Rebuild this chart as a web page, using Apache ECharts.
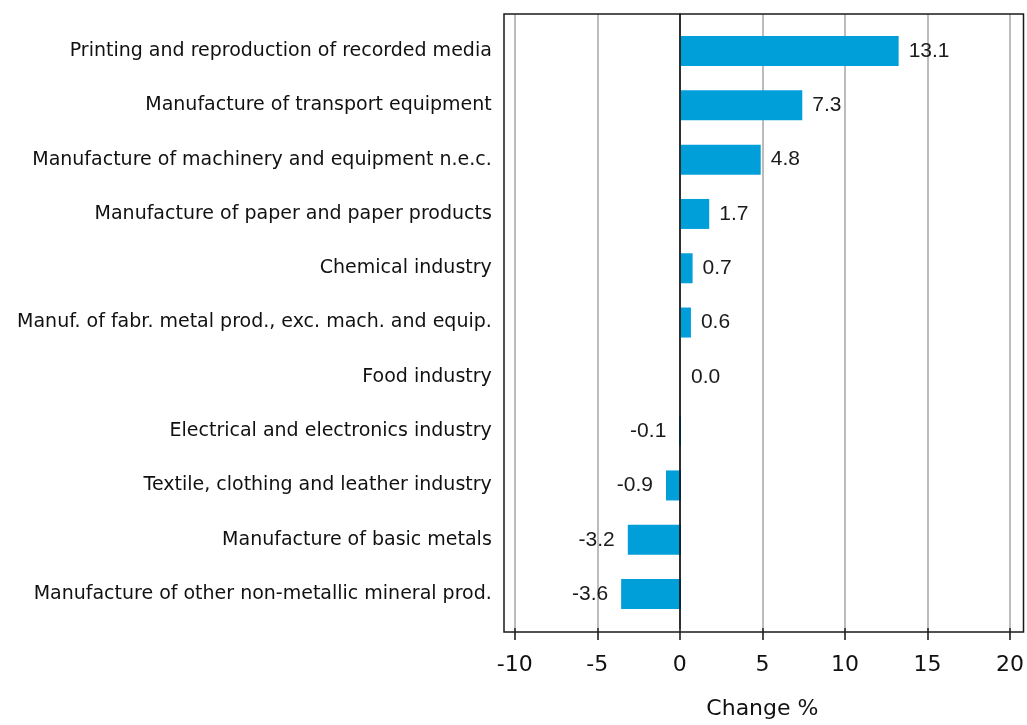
<!DOCTYPE html>
<html>
<head>
<meta charset="utf-8">
<script src="https://cdn.jsdelivr.net/npm/echarts@6/dist/echarts.min.js"></script>
<style>
html,body{margin:0;padding:0;background:#fff;}
#chart{width:1027px;height:725px;}
</style>
</head>
<body>
<div id="chart"></div>
<script>
var categories = [
  "Printing and reproduction of recorded media",
  "Manufacture of transport equipment",
  "Manufacture of machinery and equipment n.e.c.",
  "Manufacture of paper and paper products",
  "Chemical industry",
  "Manuf. of fabr. metal prod., exc. mach. and equip.",
  "Food industry",
  "Electrical and electronics industry",
  "Textile, clothing and leather industry",
  "Manufacture of basic metals",
  "Manufacture of other non-metallic mineral prod."
];
var values = [13.1, 7.3, 4.8, 1.7, 0.7, 0.6, 0.0, -0.1, -0.9, -3.2, -3.6];
var axisMin = -10, axisMax = 20, axisStep = 5;
var axisName = "Change %";

var chart = echarts.init(document.getElementById('chart'));
var barData = values.map(function (v) {
  return {
    value: v,
    label: { position: v < 0 ? 'left' : 'right', distance: v < 0 ? 13 : 10 }
  };
});

chart.setOption({
  animation: false,
  backgroundColor: '#fff',
  grid: [
    { left: 514.8, right: 13.7, top: 23.9, height: 597.3 },
    { left: 514.8, right: 13.7, top: 14, height: 618 }
  ],
  xAxis: [
    { gridIndex: 0, type: 'value', min: axisMin, max: axisMax, interval: axisStep, show: false },
    {
      gridIndex: 1, type: 'value', min: axisMin, max: axisMax, interval: axisStep,
      axisLine: { show: false },
      axisTick: { show: true, inside: false, length: 12, lineStyle: { color: '#111', width: 1.5 } },
      axisLabel: { margin: 26, fontFamily: 'DejaVu Sans', fontSize: 22, color: '#111' },
      splitLine: { show: true, lineStyle: { color: '#a6a6a6', width: 1.5 } },
      name: axisName, nameLocation: 'middle', nameGap: 70,
      nameTextStyle: { fontFamily: 'DejaVu Sans', fontSize: 22, color: '#111' }
    }
  ],
  yAxis: [
    {
      gridIndex: 0, type: 'category', data: categories, inverse: true,
      axisLine: { show: false, onZero: false },
      axisTick: { show: false },
      splitLine: { show: false },
      axisLabel: { margin: 23, fontFamily: 'DejaVu Sans', fontSize: 19, color: '#111' }
    },
    {
      gridIndex: 1, type: 'value', min: 0, max: 1, z: 5,
      axisLine: { show: true, onZero: true, lineStyle: { color: '#000', width: 1.5 } },
      axisTick: { show: false }, axisLabel: { show: false }, splitLine: { show: false }
    }
  ],
  series: [{
    type: 'bar',
    xAxisIndex: 0, yAxisIndex: 0,
    data: barData,
    barWidth: 30,
    itemStyle: { color: '#009fda' },
    label: {
      show: true,
      fontFamily: '"Liberation Sans", Arial, sans-serif', fontSize: 21, color: '#1a1a1a',
      formatter: function (p) { return p.value.toFixed(1); }
    }
  }],
  graphic: [{
    type: 'rect', z: 100, silent: true,
    shape: { x: 504, y: 14, width: 519.5, height: 618 },
    style: { fill: 'none', stroke: '#1a1a1a', lineWidth: 1.5 }
  }]
});
</script>
</body>
</html>
